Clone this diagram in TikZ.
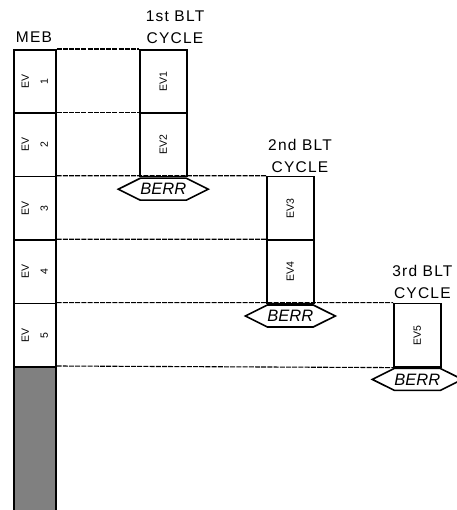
\documentclass[tikz,border=0pt]{standalone}
\usepackage{fontspec}
\setmainfont{Liberation Sans}
\newfontfamily\hdrfont[LetterSpace=8]{Liberation Sans}
\usetikzlibrary{positioning,shapes.symbols}

\begin{document}
\begin{tikzpicture}[
      x=1pt, y=-1pt,
      slot/.style={draw, line width=1.6pt, minimum width=42pt, minimum height=63.4pt,
                   inner sep=0pt, anchor=north west},
      blt/.style={draw, line width=1.6pt, minimum width=47pt, minimum height=63.4pt,
                  inner sep=0pt, anchor=north west},
      berr/.style={signal, signal to=west and east, signal pointer angle=53, draw,
                   line width=1.6pt, minimum width=90pt, minimum height=22pt,
                   inner sep=0pt, anchor=north, font=\fontsize{16.5}{18}\selectfont\itshape},
      hdr/.style={align=center, font=\hdrfont\fontsize{15.5}{22}\selectfont},
      evlab/.style={rotate=90, align=center, font=\fontsize{10.5}{19}\selectfont},
      guide/.style={line width=1.1pt, dash pattern=on 5pt off 1.2pt}
    ]
      \useasboundingbox (0,0) rectangle (456,510);
      % MEB slots
      \foreach \i in {1,...,5} {
        \node[slot] (meb\i) at (13,{49+63.4*(\i-1)}) {};
        \node[evlab] (mebl\i) at (meb\i) {EV\\\i};
      }
      \node[slot, fill=gray, minimum height=150pt] (mebrest) at (13,366) {};
      % BLT cycles
      \foreach \i/\x/\y in {1/139/49, 2/139/112.4, 3/266/175.8, 4/266/239.2, 5/393/302.6} {
        \node[blt] (ev\i) at (\x,\y) {};
        \node[rotate=90, font=\fontsize{10.5}{12}\selectfont] (evl\i) at (ev\i) {EV\i};
      }
      \node[berr] (berr1) at (ev2.south) {BERR};
      \node[berr] (berr2) at (ev4.south) {BERR};
      \node[berr] (berr3) at (ev5.south) {BERR};
      % headers
      \node[hdr] (mebhdr) at (34,37) {MEB};
      \node[hdr] (blt1hdr) at (175,27) {1st BLT\\CYCLE};
      \node[hdr] (blt2hdr) at (300,156) {2nd BLT\\CYCLE};
      \node[hdr, anchor=east] (blt3hdr) at (456,282) {3rd BLT\\CYCLE};
      % guide lines
      \foreach \a/\b in {meb1/ev1, meb2/ev2, meb3/ev3, meb4/ev4, meb5/ev5}
        \draw[guide] (\a.north east) -- (\b.north west);
      \draw[guide] (mebrest.north east) -- (ev5.south west);
    \end{tikzpicture}
\end{document}
